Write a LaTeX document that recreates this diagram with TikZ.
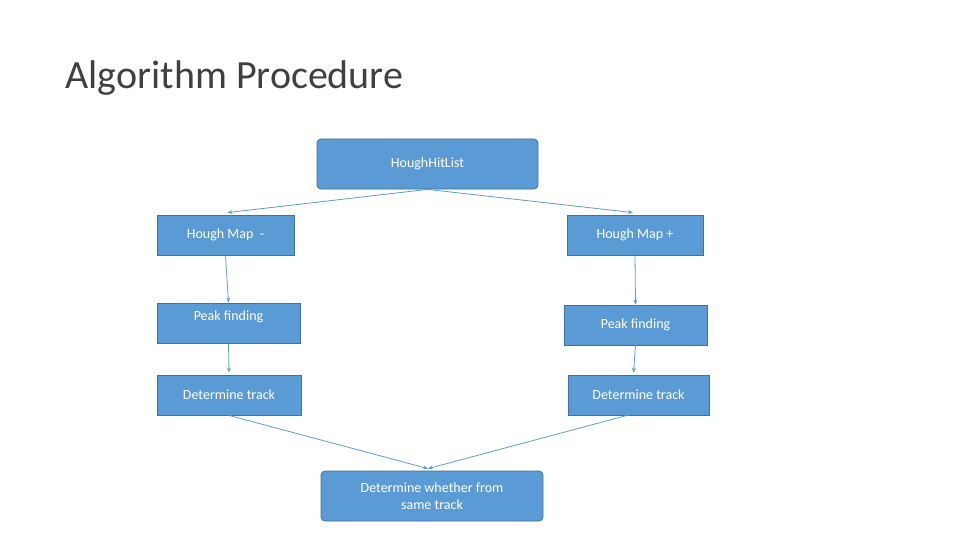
\documentclass[tikz,border=0pt]{standalone}
\usepackage{fontspec}
\setmainfont{Carlito}
\usetikzlibrary{positioning, arrows.meta}
\definecolor{boxfill}{HTML}{5B9BD5}
\definecolor{boxline}{HTML}{41719C}
\begin{document}
\begin{tikzpicture}[x=1pt,y=-1pt,
    stage/.style={draw=boxline, fill=boxfill, text=white, line width=0.8pt,
        font=\fontsize{14}{17}\selectfont, inner sep=0pt},
    flow/.style={draw=boxfill, line width=0.8pt, -{Stealth[length=5pt,width=4pt]}}]
    \useasboundingbox (0,0) rectangle (960,540);
    % Title
    \node[anchor=west, text=black!75, font=\fontsize{40}{48}\selectfont] (title) at (62,78) {Algorithm Procedure};
    % Top and bottom boxes
    \node[stage, rounded corners=4pt, minimum width=221pt, minimum height=50pt] (hit) at (427.5,164) {HoughHitList};
    \node[stage, rounded corners=4pt, minimum width=222pt, minimum height=50pt, align=center] (same) at (432,496) {Determine whether from\\same track};
    % Left branch
    \node[stage, minimum width=137pt, minimum height=40pt] (mapl) at (225.5,235) {Hough Map \ -\hspace{20pt}};
    \node[stage, minimum width=143pt, minimum height=40pt, text depth=14pt] (peakl) at (228.5,323) {Peak finding};
    \node[stage, minimum width=144pt, minimum height=40pt] (trackl) at (229,395) {Determine track};
    % Right branch
    \node[stage, minimum width=136pt, minimum height=40pt] (mapr) at (635,235) {Hough Map +};
    \node[stage, minimum width=143pt, minimum height=40pt] (peakr) at (635.5,325) {Peak finding};
    \node[stage, minimum width=141pt, minimum height=40pt] (trackr) at (638.5,395) {Determine track};
    % Connectors
    \draw[flow] (hit.south) -- ([xshift=2pt,yshift=2pt]mapl.north);
    \draw[flow] (hit.south) -- ([xshift=-2pt,yshift=2pt]mapr.north);
    \draw[flow] (mapl.south) -- (peakl.north);
    \draw[flow] (peakl.south) -- ([yshift=2pt]trackl.north);
    \draw[flow] (mapr.south) -- (peakr.north);
    \draw[flow] (peakr.south) -- ([xshift=-5pt,yshift=2pt]trackr.north);
    \draw[flow] (trackl.south) -- ([xshift=-4pt,yshift=2pt]same.north);
    \draw[flow] ([xshift=-4pt,yshift=2pt]trackr.south) -- ([xshift=-4pt,yshift=2pt]same.north);
\end{tikzpicture}
\end{document}
